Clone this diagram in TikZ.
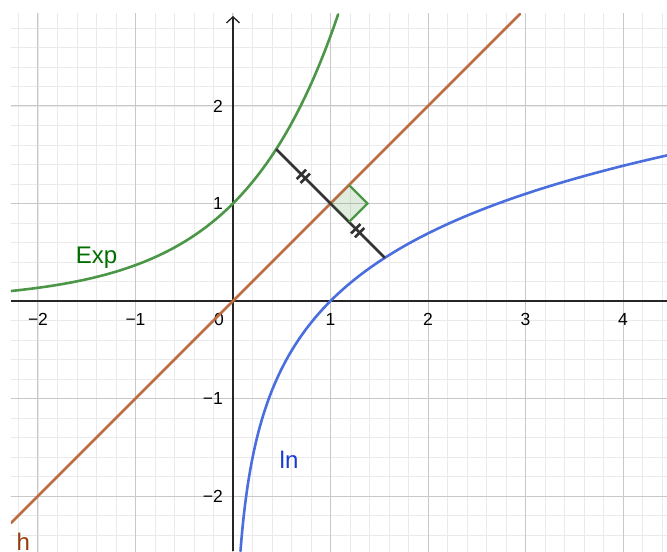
\documentclass[tikz,border=0pt]{standalone}
\usepackage{fontspec}
\setmainfont{Liberation Sans}
\usetikzlibrary{arrows.meta,calc}
\definecolor{expgreen}{RGB}{76,150,72}
\definecolor{explab}{RGB}{0,110,0}
\definecolor{lnblue}{RGB}{74,110,222}
\definecolor{lnlab}{RGB}{20,60,210}
\definecolor{hbrown}{RGB}{190,108,66}
\definecolor{hlab}{RGB}{150,60,10}
\definecolor{majorgrid}{RGB}{200,200,200}
\definecolor{minorgrid}{RGB}{234,234,234}
\definecolor{segcol}{RGB}{50,50,50}
\definecolor{axiscol}{RGB}{37,37,37}
\tikzset{
  minorg/.style={minorgrid, line width=0.8pt},
  majorg/.style={majorgrid, line width=1pt},
  axisline/.style={axiscol, line width=1.3pt},
  curve/.style={line width=2.6pt, line cap=round},
  seg/.style={segcol, line width=2.5pt},
  tickmark/.style={segcol, line width=2.6pt},
  ticklab/.style={inner sep=0pt, font=\fontsize{17.5}{20}\selectfont, text=black},
  biglab/.style={inner sep=0pt, anchor=base west, font=\fontsize{24}{28}\selectfont},
}
\begin{document}
\begin{tikzpicture}[x=97.5pt,y=97.5pt]
\useasboundingbox (-2.3897,-2.5641) rectangle (4.4513,3.0872);
\begin{scope}
\clip (-2.277,-2.5641) rectangle (4.4513,2.944);
\draw[minorg, step=0.2] (-2.4,-2.6) grid (4.6,3.0);
\draw[majorg, step=1] (-3,-3) grid (5,3);
\draw[axisline] (-2.277,0) -- (4.4513,0);
\end{scope}
\draw[axisline, -{Straight Barb[length=6pt,width=13pt]}] (0,-2.5641) -- (0,2.923);
% tick labels
\foreach \k/\t in {-2/−2,-1/−1,1/1,2/2,3/3,4/4}
  \node[ticklab] (xl\k) at (\k,-0.185) {\t};
\node[ticklab] (xl0) at (-0.144,-0.185) {0};
\foreach \k/\t in {-2/−2,-1/−1,1/1,2/2}
  \node[ticklab, anchor=east] (yl\k) at (-0.103,\k) {\t};
% curves
\begin{scope}
\clip (-2.277,-2.5641) rectangle (4.4513,2.944);
\draw[curve, expgreen] plot[domain=-2.277:1.0798, samples=200, smooth] (\x,{exp(\x)});
\draw[curve, lnblue] plot[domain=-2.5641:1.4933, samples=200, smooth] ({exp(\x)},\x);
\draw[curve, hbrown] (-2.277,-2.277) -- (2.944,2.944);
\end{scope}
% perpendicular segment
\coordinate (A) at (0.44285,1.55715);
\coordinate (B) at (1.55715,0.44285);
\coordinate (M) at (1,1);
\draw[seg] (A) -- (B);
\foreach \cx/\cy/\n in {0.7214/1.2786/1, 1.2786/0.7214/2}{
  \coordinate (T\n) at (\cx,\cy);
  \draw[tickmark] ($(T\n)+(-0.02,0.02)+(-0.048,-0.048)$) -- ($(T\n)+(-0.02,0.02)+(0.048,0.048)$);
  \draw[tickmark] ($(T\n)+(0.02,-0.02)+(-0.048,-0.048)$) -- ($(T\n)+(0.02,-0.02)+(0.048,0.048)$);
}
% right angle marker
\coordinate (R1) at (1.19,1.19);
\coordinate (R2) at (1.38,1);
\coordinate (R3) at (1.19,0.81);
\fill[expgreen, fill opacity=0.18] (M) -- (R1) -- (R2) -- (R3) -- cycle;
\draw[expgreen, line width=2.2pt, line join=miter] (R1) -- (R2) -- (R3);
% labels
\node[biglab, text=explab] (lexp) at (-1.613,0.387) {Exp};
\node[biglab, text=lnlab] (lln) at (0.477,-1.723) {ln};
\node[biglab, text=hlab] (lh) at (-2.22,-2.554) {h};
\end{tikzpicture}
\end{document}
